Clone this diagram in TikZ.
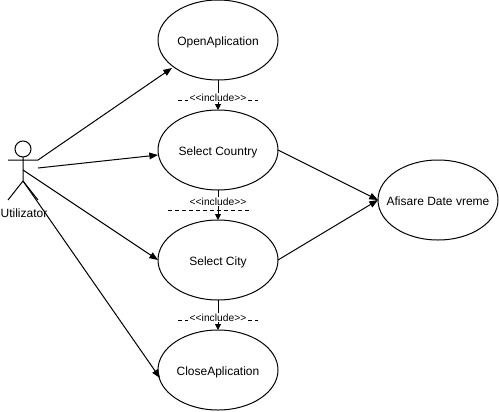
\documentclass[tikz,border=0pt]{standalone}
\usepackage{fontspec}
\setmainfont{Liberation Sans}
\usetikzlibrary{%
    arrows.meta,
    positioning,
    shapes.geometric
}
\tikzset{
    usecase/.style = {draw,ellipse,minimum width=90pt,minimum height=60pt,inner sep=0pt,outer sep=0pt,text height=7.5pt,text depth=0pt,font=\fontsize{9}{11}\selectfont},
    headarrow/.style = {-{Triangle[length=6.5pt,width=5pt]}},
    includearrow/.style = {-{Triangle[length=4.5pt,width=4.5pt]}},
    includelabel/.style = {fill=white,inner xsep=1pt,inner ysep=.5pt,font=\fontsize{7.7}{9}\selectfont},
    includeline/.style = {dash pattern=on 3pt off 2.25pt}
}

\begin{document}
\begin{tikzpicture}[x=.75pt,y=-.75pt,line width=.75pt,node distance=22.5pt]
    \useasboundingbox (0,0) rectangle (499,411);

    \node[usecase] (open) at (218,40) {OpenAplication};
    \node[usecase] (country) [below=of open] {Select Country};
    \node[usecase] (city) [below=of country] {Select City};
    \node[usecase] (close) [below=of city] {CloseAplication};
    \node[usecase] (afisare) at (438,200) {\makebox[0pt]{Afisare Date vreme}};

    % actor
    \node[draw,circle,minimum size=12pt,inner sep=0pt,outer sep=0pt] (head) at (23,149) {};
    \coordinate (armL) at (8,160);
    \coordinate (armR) at (38,160);
    \coordinate (chest) at (38,168);
    \coordinate (waist) at (23,170);
    \coordinate (hip) at (23,181);
    \coordinate (footL) at (8,200);
    \coordinate (footR) at (38,200);
    \draw (head) -- (hip) (armL) -- (armR) (footL) -- (hip) -- (footR);
    \node[inner sep=0pt,font=\fontsize{9}{11}\selectfont] (actor) at (24,213) {Utilizator};

    % associations
    \coordinate (openEnd) at (172,68);
    \coordinate (countryEnd) at (158,155);
    \coordinate (closeEnd) at (160,378);
    \draw[headarrow] (armR) -- (openEnd);
    \draw[headarrow] (chest) -- (countryEnd);
    \draw[headarrow] (waist) -- (city.west);
    \draw[headarrow] (hip) -- (closeEnd);
    \draw[headarrow] (country.east) -- (afisare.west);
    \draw[headarrow] (city.east) -- (afisare.west);

    % includes
    \foreach \Lx/\Rx/\Dy/\Ly/\From/\To [count=\i] in {%
        178/258/100/97.5/open/country,
        168/249/210/201.5/country/city,
        178/258/320/317.5/city/close%
        }{
        \coordinate (dashL\i) at (\Lx,\Dy);
        \coordinate (dashR\i) at (\Rx,\Dy);
        \draw[includeline] (dashL\i) -- (dashR\i);
        \draw[includearrow] (\From) -- (\To);
        \node[includelabel] (include\i) at (218,\Ly) {{<}{<}include{>}{>}};
    }
\end{tikzpicture}
\end{document}
